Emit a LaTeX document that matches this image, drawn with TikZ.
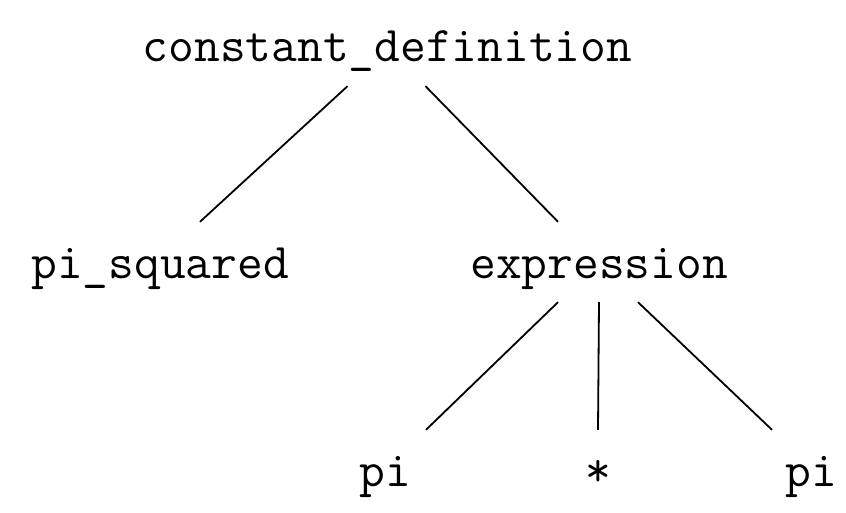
\documentclass[tikz,border=0pt]{standalone}
\usepackage{fontspec}

\begin{document}
\begin{tikzpicture}[
            x=1pt, y=1pt,
            every node/.style={font=\ttfamily\fontsize{50}{56}\selectfont}
        ]

        % Define styles for nodes and edges
        \tikzset{
            word/.style={inner sep=0pt, text height=56pt, text depth=24pt, anchor=base},
            branch/.style={line width=1.8pt}
        }

        \useasboundingbox (0,0) rectangle (846,-513);

        % Level 0: root
        \node[word] (constdef) at (387.5,-62) {constant\_definition};

        % Level 1
        \node[word] (pisq) at (160,-278) {pi\_squared};
        \node[word] (expr) at (599,-278) {expression};

        % Level 2
        \node[word] (piA) at (385,-486) {pi};
        \node[word] (times) at (598,-486) {*};
        \node[word] (piB) at (811,-486) {pi};

        % Edges
        \draw[branch] ([xshift=-40pt]constdef.south) -- ([xshift=40pt]pisq.north);
        \draw[branch] ([xshift=38pt]constdef.south) -- ([xshift=-41pt]expr.north);
        \draw[branch] ([xshift=-41pt]expr.south) -- ([xshift=41pt]piA.north);
        \draw[branch] (expr.south) -- (times.north);
        \draw[branch] ([xshift=39pt]expr.south) -- ([xshift=-39pt]piB.north);

        \end{tikzpicture}
\end{document}
